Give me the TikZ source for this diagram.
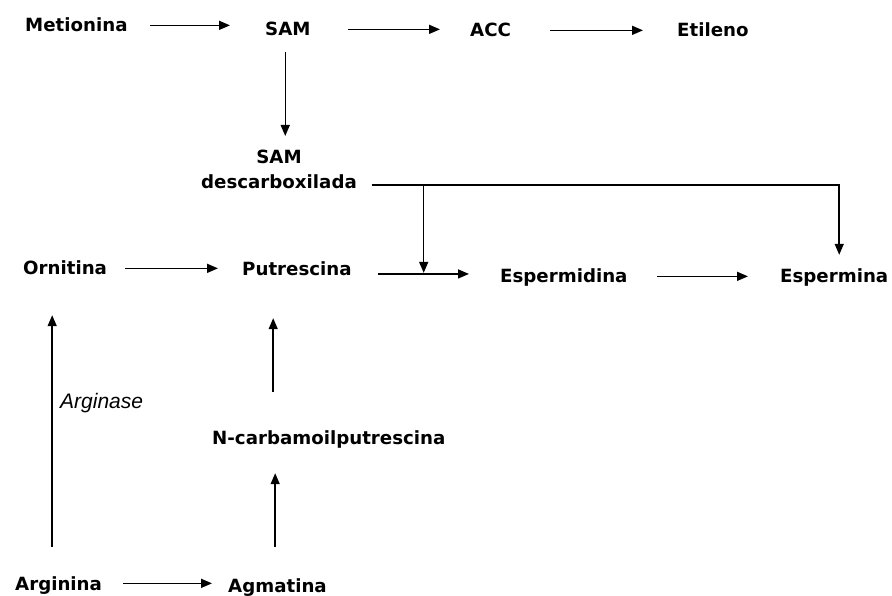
\documentclass[tikz,border=0pt]{standalone}
\usepackage{fontspec}
\setmainfont{DejaVu Sans}
\newfontfamily\labfont{Liberation Sans}
\usetikzlibrary{arrows.meta,calc}
\begin{document}
\begin{tikzpicture}[x=1pt,y=-1pt,
  lab/.style={font=\fontsize{18.2}{25}\selectfont\bfseries, inner sep=0pt,
    text height=13.3pt, text depth=0pt, anchor=base west},
  arr/.style={line width=1.5pt, -{Triangle[length=11pt,width=9pt]}},
  ln/.style={line width=1.5pt}]
\useasboundingbox[fill=white] (0,0) rectangle (892,596);

% nodes
\node[lab] (met)  at (25,32)   {Metionina};
\node[lab] (sam)  at (265,36)  {SAM};
\node[lab] (acc)  at (470,37)  {ACC};
\node[lab] (eti)  at (677,37)  {Etileno};
\node[font=\fontsize{18.2}{25}\selectfont\bfseries, inner sep=0pt, align=center, anchor=north]
      (samd) at (279,149.7) {SAM\\descarboxilada};
\node[lab] (orn)  at (23,275)  {Ornitina};
\node[lab] (put)  at (242,276) {Putrescina};
\node[lab] (espd) at (500,283) {Espermidina};
\node[lab] (espm) at (780,283) {Espermina};
\node[lab] (ncarb) at (212,444) {N-carbamoilputrescina};
\node[lab] (arg)  at (15,590)  {Arginina};
\node[lab] (agm)  at (228,592) {Agmatina};
\node[font=\fontsize{21}{25}\selectfont\labfont\itshape, inner sep=0pt, anchor=base west]
      (argase) at (60,408) {Arginase};

% top row
\draw[arr, shorten <=22.7pt, shorten >=35pt] (met.east) -- (met.east -| sam.west);
\draw[arr, shorten <=37.7pt, shorten >=30pt] (sam.east) -- (sam.east -| acc.west);
\draw[arr, shorten <=39.2pt, shorten >=34pt] (acc.east) -- (acc.east -| eti.west);
\draw[arr, shorten <=16pt, shorten >=13.7pt] ($(sam.south)+(-2.6,0)$) -- ($(sam.south |- samd.north)+(-2.6,0)$);

% SAM descarboxilada branches
\draw[arr, shorten >=14.7pt] ($(samd.south east)+(14.7,-4)$) -| ($(espm.north)+(5,0)$);
\coordinate (j) at ($(samd.south east)+(66.7,-4)$);
\draw[arr] (j) -- ($(j |- put.east)+(0,3.5)$);

% middle row
\draw[arr, shorten <=18.2pt, shorten >=24pt] (orn.east) -- (orn.east -| put.west);
\draw[arr, shorten <=26.6pt, shorten >=31pt] ($(put.east)+(0,4.6)$) -- ($(put.east -| espd.west)+(0,4.6)$);
\draw[arr, shorten <=29.7pt, shorten >=32pt] (espd.east) -- (espd.east -| espm.west);

% bottom
\draw[arr, shorten <=21.2pt, shorten >=16pt] (arg.east) -- (arg.east -| agm.west);
\draw[arr] ($(arg.north)+(-6.4,-29.7)$) -- ($(arg.north |- orn.south)+(-6.4,40)$);
\draw[arr] ($(agm.north)+(-2.3,-31.7)$) -- ($(agm.north |- ncarb.south)+(-2.3,29)$);
\draw[arr] ($(ncarb.north)+(-55.6,-38.7)$) -- ($(ncarb.north |- put.south)+(-55.6,42)$);
\end{tikzpicture}
\end{document}
